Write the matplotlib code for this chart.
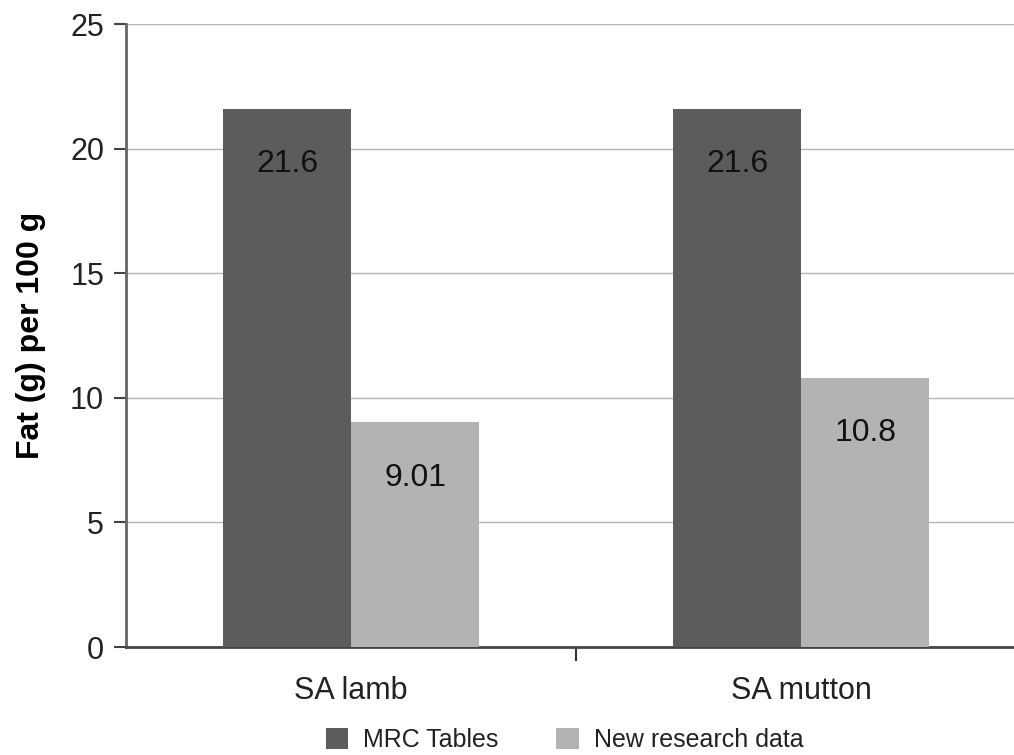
import numpy as np
import matplotlib.pyplot as plt

plt.rcParams['font.family'] = ['Liberation Sans', 'DejaVu Sans']

categories = ['SA lamb', 'SA mutton']
series_names = ['MRC Tables', 'New research data']
mrc_values = [21.6, 21.6]
new_values = [9.01, 10.8]
value_labels = [['21.6', '21.6'], ['9.01', '10.8']]
colors = ['#5c5c5c', '#b3b3b3']

fig = plt.figure(figsize=(10.14, 7.55), dpi=100)
ax = fig.add_axes([0.1245, 0.143, 0.8876, 0.8252])

x = np.arange(len(categories))
w = 0.284
for i, (vals, name) in enumerate(zip([mrc_values, new_values], series_names)):
    pos = x - w / 2 + i * w
    bars = ax.bar(pos, vals, width=w, color=colors[i], label=name, zorder=3)
    for b, txt in zip(bars, value_labels[i]):
        ax.annotate(txt, (b.get_x() + b.get_width() / 2, b.get_height()),
                    xytext=(0, -40), textcoords='offset points',
                    ha='center', va='center', fontsize=23, color='#111111',
                    zorder=4)

ax.set_xlim(-0.5, 1.5)
ax.set_ylim(0, 25)
ax.set_yticks([0, 5, 10, 15, 20, 25])
ax.yaxis.grid(True, color='#b5b5b5', lw=1, zorder=0)
ax.set_axisbelow(True)

ax.set_xticks(x)
ax.set_xticklabels(categories)
ax.tick_params(axis='x', length=0, pad=21, labelsize=22, labelcolor='#222222')
ax.set_xticks([0.5], minor=True)
ax.tick_params(axis='x', which='minor', length=10, width=1.5, color='#333333',
               direction='out')
ax.tick_params(axis='y', length=9, width=1.5, color='#444444', pad=7,
               labelsize=22, labelcolor='#222222')

for s in ['top', 'right']:
    ax.spines[s].set_visible(False)
ax.spines['left'].set_color('#666666')
ax.spines['left'].set_linewidth(2)
ax.spines['bottom'].set_color('#444444')
ax.spines['bottom'].set_linewidth(2)

ax.set_ylabel('Fat (g) per 100 g', fontsize=23, fontweight='bold')
ax.yaxis.set_label_coords(-0.089, 0.5)

ax.legend(loc='center', bbox_to_anchor=(0.487, -0.149), ncol=2, frameon=False,
          fontsize=18, handlelength=0.9, handleheight=0.9,
          handletextpad=0.6, columnspacing=2.3, labelcolor='#222222',
          borderpad=0.1)

fig.savefig('out.png', dpi=100)
